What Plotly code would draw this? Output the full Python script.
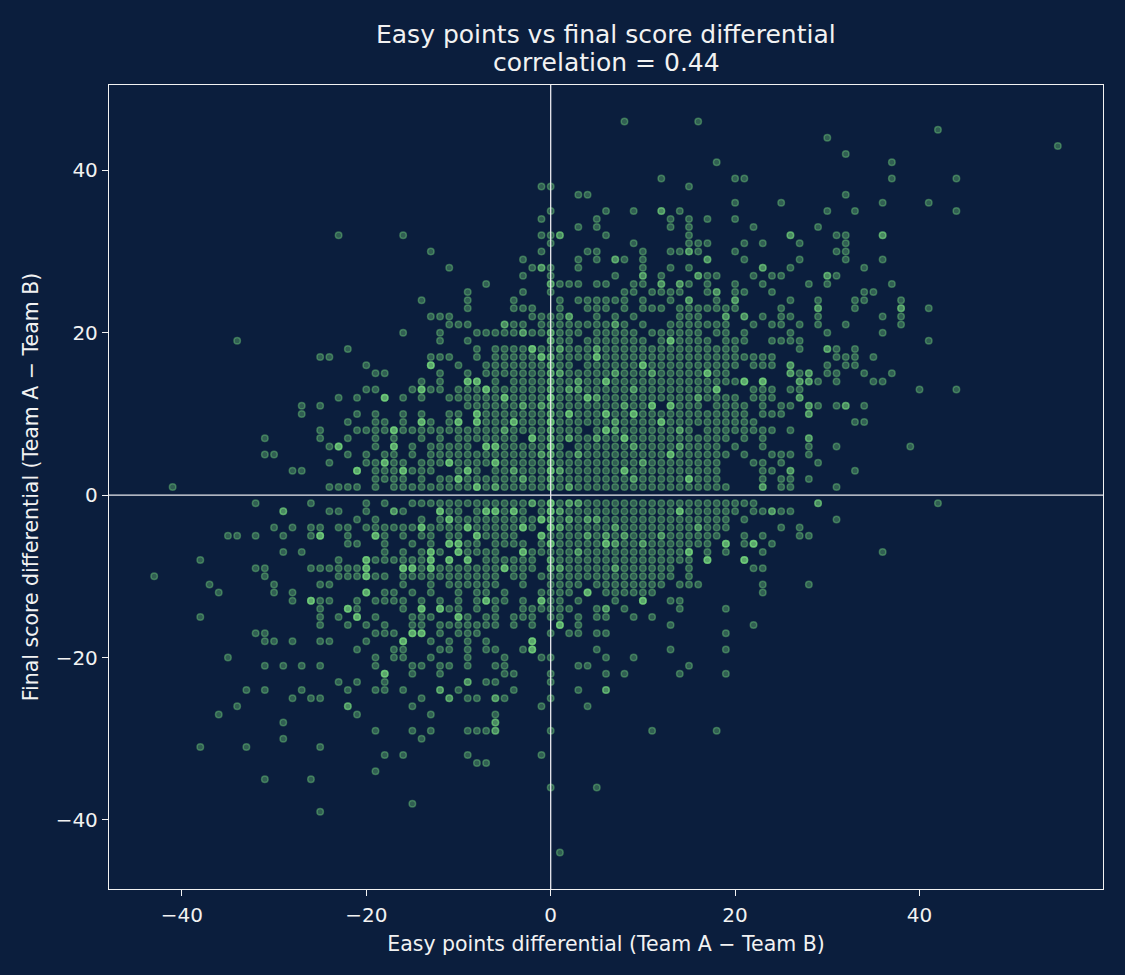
import plotly.graph_objects as go

# games, one row per final score differential
# (y, [easy points differential, ...]); a repeated x = brighter dot
upper_rows = [
    (46, [8, 16]),
    (45, [42]),
    (44, [30]),
    (43, [55]),
    (42, [32]),
    (41, [18, 37]),
    (39, [12, 20, 21, 37, 44]),
    (38, [-1, 0, 15]),
    (37, [3, 4, 32]),
    (36, [20, 25, 36, 41]),
    (35, [0, 6, 9, 12, 12, 14, 30, 33, 44]),
    (34, [-1, 5, 13, 15, 17, 20]),
    (33, [3, 5, 13, 15, 22, 29]),
    (32, [-23, -16, -1, 0, 1, 1, 6, 15, 26, 26, 31, 32, 36, 36]),
    (31, [0, 9, 15, 16, 17, 21, 23, 27, 32]),
    (30, [-13, -1, 4, 5, 10, 13, 14, 15, 15, 16, 20, 31, 32]),
    (29, [-3, 3, 5, 7, 7, 8, 10, 17, 17, 21, 27, 32, 36]),
    (28, [-11, -2, -1, -1, 0, 3, 10, 13, 15, 23, 23, 26, 34]),
    (27, [-3, 0, 7, 10, 10, 12, 16, 16, 17, 18, 22, 24, 25, 30, 30, 31]),
    (26, [-7, 0, 0, 1, 2, 3, 5, 6, 9, 10, 12, 12, 14, 14, 15, 17, 20, 23,
          28, 30, 37]),
    (25, [-9, -3, 0, 8, 9, 11, 12, 13, 14, 17, 18, 18, 20, 21, 24, 34, 35]),
    (24, [-14, -9, -4, 1, 3, 4, 5, 6, 7, 8, 10, 13, 15, 15, 18, 20, 20, 26,
          29, 33, 34, 38]),
    (23, [-9, -4, -3, -2, 1, 4, 5, 6, 8, 10, 11, 12, 14, 15, 16, 17, 18, 19,
          20, 25, 29, 29, 33, 38, 38, 41]),
    (22, [-13, -12, -11, -2, -1, 0, 1, 2, 2, 5, 7, 9, 14, 15, 16, 19, 19,
          21, 21, 23, 25, 26, 29, 36, 38]),
    (21, [-11, -10, -9, -5, -5, -4, -3, -1, 0, 1, 2, 3, 4, 5, 6, 7, 7, 8,
          10, 13, 14, 15, 16, 17, 18, 19, 22, 24, 25, 27, 29, 32, 38]),
]

core_rows = [
    (20, [-16, -12, -8, -7, -6, -5, -4, -3, -3, -2, -1, 0, 0, 1, 2, 3, 5, 6,
          7, 8, 9, 11, 12, 13, 14, 15, 16, 18, 19, 21, 26, 30, 36]),
    (19, [-34, -12, -9, 0, 0, 1, 2, 4, 5, 6, 7, 8, 9, 10, 12, 13, 13, 14, 15,
          16, 17, 19, 20, 21, 24, 25, 26, 27, 41]),
    (18, [-22, -8, -6, -5, -4, -3, -2, -2, -1, 0, 1, 2, 3, 4, 5, 5, 6, 7, 8,
          9, 10, 11, 12, 13, 14, 15, 16, 17, 18, 19, 20, 27, 30, 30, 31, 33]),
    (17, [-25, -24, -13, -12, -11, -8, -6, -5, -4, -3, -2, -1, -1, 0, 0, 1,
          2, 3, 4, 5, 5, 6, 7, 8, 9, 10, 11, 12, 13, 14, 15, 16, 17, 18, 19,
          20, 21, 22, 23, 24, 31, 32, 33, 35]),
    (16, [-20, -13, -13, -10, -7, -6, -5, -4, -3, -2, -1, 0, 1, 2, 4, 5, 6,
          7, 8, 9, 10, 10, 11, 12, 13, 14, 15, 16, 17, 18, 19, 20, 22, 23, 24,
          26, 26, 30, 32, 33]),
    (15, [-19, -18, -12, -9, -7, -6, -5, -4, -3, -2, -1, 0, 0, 1, 2, 3, 4, 5,
          6, 7, 7, 8, 9, 10, 11, 12, 13, 14, 15, 16, 17, 17, 18, 19, 26, 26,
          27, 28, 28, 30, 31, 34, 37]),
    (14, [-14, -12, -9, -9, -8, -8, -6, -4, -3, -2, -1, 0, 0, 1, 2, 3, 4, 5,
          6, 6, 7, 8, 9, 10, 11, 12, 13, 14, 15, 16, 17, 18, 19, 20, 21, 21,
          23, 23, 27, 27, 28, 28, 29, 31, 35, 36]),
    (13, [-20, -19, -15, -14, -14, -13, -12, -10, -9, -8, -7, -7, -6, -5, -4,
          -3, -2, -1, 0, 0, 1, 2, 3, 4, 5, 6, 7, 8, 9, 9, 10, 11, 12, 13, 14,
          15, 16, 17, 18, 18, 22, 23, 24, 26, 27, 40, 44]),
    (12, [-23, -21, -18, -18, -16, -14, -11, -10, -9, -8, -7, -6, -5, -5, -4,
          -3, -2, -1, 0, 0, 1, 2, 3, 4, 4, 5, 6, 7, 8, 9, 10, 11, 12, 13, 14,
          15, 16, 17, 18, 19, 20, 22, 23, 24, 27, 27]),
    (11, [-27, -25, -9, -8, -7, -6, -5, -4, -3, -2, -1, -1, 0, 0, 1, 2, 3, 4,
          5, 6, 7, 8, 9, 10, 11, 11, 13, 13, 14, 15, 16, 18, 19, 20, 21, 23,
          25, 26, 28, 28, 29, 31, 32, 32, 34]),
    (10, [-27, -21, -19, -16, -14, -11, -10, -8, -8, -7, -6, -5, -4, -3, -2,
          -1, 0, 0, 1, 2, 2, 3, 4, 5, 6, 6, 7, 8, 9, 10, 11, 12, 13, 14, 15,
          16, 17, 18, 19, 20, 21, 23, 24, 25, 28, 28]),
    (9, [-22, -19, -18, -16, -14, -14, -13, -11, -10, -10, -8, -8, -7, -6,
         -5, -4, -4, -3, -2, -1, 0, 0, 1, 2, 3, 4, 5, 6, 7, 8, 9, 10, 11, 12,
         13, 14, 15, 16, 17, 18, 19, 20, 21, 22, 33, 34]),
    (8, [-25, -21, -20, -19, -18, -17, -17, -16, -15, -14, -13, -12, -11, -10,
         -9, -8, -7, -6, -5, -4, -3, -2, -1, 0, 0, 1, 2, 3, 5, 6, 6, 7, 8, 9,
         10, 11, 12, 13, 14, 15, 17, 18, 19, 20, 21, 22, 23, 24, 26]),
    (7, [-31, -25, -22, -19, -17, -14, -12, -10, -9, -8, -7, -6, -5, -4, -2,
         -2, -1, 0, 0, 1, 2, 3, 4, 5, 6, 7, 8, 8, 9, 10, 11, 12, 13, 14, 15,
         16, 17, 18, 19, 21, 23, 28, 28]),
    (6, [-24, -23, -23, -19, -17, -17, -15, -13, -12, -11, -10, -9, -7, -7,
         -6, -6, -5, -4, -3, -2, -1, 0, 0, 1, 3, 4, 5, 6, 7, 8, 9, 10, 11, 12,
         13, 14, 15, 16, 17, 18, 20, 23, 28, 31, 39]),
    (5, [-31, -30, -22, -20, -18, -17, -15, -13, -12, -11, -10, -9, -8, -7,
         -6, -5, -4, -3, -2, -1, 0, 0, 1, 2, 3, 4, 5, 6, 7, 8, 9, 10, 11, 12,
         13, 13, 14, 15, 16, 17, 18, 19, 21, 24, 25, 26, 28]),
    (4, [-24, -20, -19, -18, -18, -17, -16, -14, -13, -12, -11, -11, -10, -9,
         -8, -7, -6, -6, -5, -4, -3, -2, -1, 0, 0, 1, 2, 3, 4, 5, 6, 7, 8, 9,
         10, 12, 13, 14, 15, 16, 17, 18, 22, 23, 25, 29]),
    (3, [-28, -27, -21, -21, -19, -18, -17, -16, -16, -15, -14, -13, -10, -9,
         -9, -8, -6, -5, -4, -3, -2, -1, 0, 0, 1, 2, 3, 4, 5, 6, 7, 8, 8, 9,
         10, 11, 12, 13, 14, 15, 16, 17, 18, 23, 24, 26, 26, 33]),
    (2, [-19, -18, -17, -16, -14, -12, -11, -10, -10, -9, -8, -7, -6, -5, -4,
         -3, -2, -1, 0, 0, 1, 2, 3, 4, 5, 6, 7, 8, 9, 10, 11, 12, 13, 14, 15,
         15, 16, 17, 18, 23, 25, 26, 28]),
    (1, [-41, -24, -23, -22, -21, -19, -17, -16, -15, -14, -13, -12, -11,
         -10, -9, -8, -8, -7, -6, -5, -4, -3, -2, -1, 0, 0, 1, 2, 3, 4, 5, 6,
         7, 8, 9, 10, 11, 12, 13, 14, 15, 16, 17, 18, 19, 23, 23, 25, 26, 31]),
    (-1, [-32, -26, -20, -18, -15, -14, -13, -12, -11, -10, -9, -8, -7, -6,
          -5, -4, -3, -2, -1, 0, 0, 1, 2, 3, 4, 5, 6, 7, 8, 9, 10, 11, 12, 13,
          14, 15, 16, 17, 18, 19, 20, 21, 22, 29, 29, 42]),
    (-2, [-29, -29, -24, -23, -20, -17, -17, -16, -12, -12, -11, -10, -8, -7,
          -7, -6, -6, -5, -4, -4, -3, -1, 0, 0, 1, 2, 3, 4, 5, 6, 7, 8, 9, 10,
          11, 12, 13, 14, 14, 15, 16, 17, 18, 19, 20, 22, 23, 24, 24, 25, 26]),
    (-3, [-21, -19, -14, -12, -11, -11, -10, -9, -8, -7, -6, -5, -4, -3, -2,
          -1, -1, 0, 0, 1, 2, 3, 4, 5, 6, 7, 8, 9, 10, 11, 12, 13, 14, 15, 16,
          17, 18, 19, 21, 31]),
    (-4, [-30, -28, -26, -25, -23, -22, -20, -19, -18, -17, -16, -15, -14,
          -14, -13, -12, -11, -10, -9, -9, -8, -7, -6, -5, -4, -3, -3, -2, 0,
          0, 1, 2, 3, 4, 5, 6, 7, 8, 9, 10, 11, 12, 13, 14, 15, 16, 17, 18,
          19, 25, 27]),
    (-5, [-35, -34, -32, -29, -26, -25, -25, -22, -19, -19, -18, -16, -14,
          -13, -11, -10, -8, -8, -7, -6, -5, -4, -1, -1, 0, 1, 2, 3, 4, 5, 6,
          7, 8, 9, 10, 11, 12, 13, 14, 15, 16, 17, 18, 21, 23, 27, 28]),
    (-6, [-22, -21, -18, -15, -13, -11, -11, -10, -10, -9, -8, -6, -5, -4,
          -3, -1, 0, 0, 1, 2, 3, 4, 5, 6, 7, 7, 8, 9, 10, 11, 12, 13, 14, 15,
          16, 17, 19, 19, 21, 22, 22, 24]),
    (-7, [-29, -27, -18, -16, -14, -13, -13, -12, -10, -10, -9, -8, -7, -6,
          -3, -3, -2, -1, 0, 1, 2, 3, 4, 5, 6, 7, 8, 9, 10, 11, 12, 13, 14,
          15, 15, 17, 19, 23, 36]),
    (-8, [-38, -23, -20, -20, -19, -18, -17, -16, -15, -14, -13, -13, -11,
          -11, -9, -9, -7, -6, -5, -4, -3, -2, 0, 0, 1, 2, 3, 4, 5, 6, 7, 8,
          9, 10, 11, 12, 13, 14, 15, 17, 17, 21, 21]),
    (-9, [-32, -31, -26, -25, -24, -23, -22, -21, -20, -20, -16, -16, -15,
          -15, -14, -13, -13, -12, -11, -10, -9, -8, -7, -6, -5, -5, -4, -3,
          -2, 0, 1, 2, 3, 4, 5, 6, 7, 8, 9, 10, 11, 12, 13, 15, 22, 23]),
    (-10, [-43, -31, -23, -22, -21, -20, -20, -19, -18, -16, -15, -14, -13,
           -12, -11, -10, -9, -8, -7, -6, -4, -3, -1, 0, 1, 2, 3, 4, 5, 6, 7,
           8, 9, 10, 11, 12, 13, 15]),
    (-11, [-37, -30, -25, -24, -16, -13, -11, -10, -9, -8, -7, -6, -3, 0, 1,
           2, 3, 5, 6, 7, 8, 9, 10, 11, 12, 14, 15, 16, 23, 28]),
    (-12, [-36, -30, -28, -20, -20, -18, -17, -15, -13, -10, -8, -7, -5, -1,
           0, 1, 2, 4, 4, 6, 7, 8, 9, 10, 11, 23]),
]

lower_rows = [
    (-13, [-28, -26, -26, -25, -24, -21, -19, -18, -17, -16, -14, -12, -10,
           -8, -7, -7, -6, -5, -3, -1, -1, 0, 1, 3, 7, 10, 10, 13, 14]),
    (-14, [-25, -22, -22, -21, -16, -14, -14, -12, -12, -11, -10, -8, -6, -3,
           -2, -1, 0, 1, 2, 5, 6, 6, 8, 14, 19]),
    (-15, [-38, -25, -23, -21, -21, -19, -15, -14, -13, -10, -10, -9, -7, -6,
           -4, -3, -2, 0, 1, 3, 5, 6, 9, 11]),
    (-16, [-25, -22, -20, -18, -15, -14, -12, -11, -10, -9, -8, -7, -6, -4,
           -2, 1, 1, 3, 13, 22]),
    (-17, [-32, -31, -19, -18, -17, -15, -15, -14, -14, -12, -10, -9, -8, 0,
           2, 3, 5, 6, 19]),
    (-18, [-31, -30, -28, -25, -24, -20, -16, -16, -13, -11, -9, -7, -2, -2]),
    (-19, [-21, -17, -16, -12, -11, -9, -7, -6, -3, -2, -2, 5, 13, 19]),
    (-20, [-35, -19, -17, -16, -13, -9, -5, -1, 0, 6, 9]),
    (-21, [-31, -29, -27, -25, -19, -15, -14, -12, -11, -9, -6, -5, 3, 4, 15]),
    (-22, [-18, -18, -15, -12, -5, -4, 0, 6, 8, 14, 19]),
    (-23, [-23, -21, -18, -9, -9, -7, -6, 0]),
    (-24, [-33, -31, -27, -22, -19, -18, -16, -12, -12, -10, -4, 3, 6, 6]),
    (-25, [-28, -26, -25, -14, -11, -11, -9, -8, -6, -6, -5, 0]),
    (-26, [-34, -22, -22, -15, -1, 4]),
    (-27, [-36, -21, -13, -6]),
    (-28, [-29, -6, -6]),
    (-29, [-19, -15, -13, -9, -8, -7, -6, -6, 0, 11, 18]),
    (-30, [-29, -14]),
    (-31, [-38, -33, -25]),
    (-32, [-18, -16, -9, -1]),
    (-33, [-8, -7]),
    (-34, [-19]),
    (-35, [-31, -26]),
    (-36, [0, 5]),
    (-38, [-15]),
    (-39, [-25]),
    (-44, [1]),
]

# extra games stacked on the brightest spots of the dense middle
extra_x = [13, 5, 6, 10, 11, 13, 6, 2, 4, 6, 8, 13, 15, 8, 21, 23, 18, 17,
           1, 1, 3, 2, 5, 7, 9, 10, 14, 16, 12, 3, 1, 2, 0, 0, 0, 0, 0, 0,
           -2, -1, -13, -9, -8, -14, -7, -18, -5, -8, -14, -10, -8, -4, -17,
           -2, -23, -17, -6, -7, -18, -11, -6, -21, -16, -9, -10, -8, -3, -5,
           -1, -3, -12, -7, -6, -4, -11, -1, -14, -9, -3, -19, -25, -8, -1,
           -11, -10, -13, -10, -3, -20, -13, -11, -9, -20, -16, -15, -13, -5,
           -20, -20, -26, -7, -1, -22, -14, -12, -21, -10, -15, -14, -16, -2,
           -2, -18, 14, 1, 3, 2, 5, 7, 1, 4, 6, 12, 19, 22, 15, 17, 21, 1, 7,
           4, 10, 6, 1, 8, 10, 3, 0, 0, 0, 0, 4, 9, 11, 5, 8, 3, 11, 7, 9, 2,
           -2, -4, -6, 12, 14, 16, 6, 2, 9]
extra_y = [19, 17, 14, 16, 11, 11, 10, 10, 12, 8, 7, 5, 2, 3, 14, 14, 13,
           15, 18, 15, 14, 13, 12, 9, 6, 4, 6, 12, 9, 5, 3, 1, 6, 12, 16, 9,
           3, -4, 18, 17, 16, 14, 14, 13, 13, 12, 12, 10, 9, 9, 9, 9, 8, 7, 6,
           6, 6, 6, 4, 4, 4, 3, 3, 3, 2, 1, 11, 8, 5, 2, -2, -2, -2, -2, -3,
           -3, -4, -4, -4, -5, -5, -5, -5, -6, -6, -7, -7, -7, -8, -8, -8, -8,
           -9, -9, -9, -9, -9, -10, -12, -13, -13, -13, -14, -14, -14, -15,
           -15, -17, -17, -18, -18, -19, -22, -2, -2, -1, -3, -3, -4, -4, -5,
           -5, -5, -6, -6, -7, -8, -8, -9, -9, -12, -13, -6, -16, -5, -6, -7,
           -1, -6, -9, -2, -3, 2, 4, 7, 11, 13, 15, 8, 10, -1, -1, 3, 1, 9, 8,
           -4, -6, 7, 10, 4, -3, -10]

title_lines = ["Easy points vs final score differential", "correlation = 0.44"]
x_label = "Easy points differential (Team A \u2212 Team B)"
y_label = "Final score differential (Team A \u2212 Team B)"
tick_vals = [-40, -20, 0, 20, 40]

easy_diff = []
final_diff = []
for y, row in upper_rows + core_rows + lower_rows:
    for x in row:
        easy_diff.append(x)
        final_diff.append(y)
easy_diff += extra_x
final_diff += extra_y

bg = "#0b1e3d"
dot = "rgba(124,226,130,0.33)"
ring = "rgba(124,226,130,0.38)"
white = "#f2f2f2"

fig = go.Figure()
fig.add_trace(go.Scatter(
    x=easy_diff, y=final_diff, mode="markers",
    marker=dict(size=6.5, color=dot, line=dict(color=ring, width=1.5)),
    hoverinfo="skip", showlegend=False,
))

# the two zero lines sit on top of the dots
fig.add_shape(type="line", xref="x", yref="paper", x0=0, x1=0, y0=0, y1=1,
              line=dict(color="#e8e8ee", width=1.3), layer="above")
fig.add_shape(type="line", xref="paper", yref="y", x0=0, x1=1, y0=0, y1=0,
              line=dict(color="#e8e8ee", width=1.3), layer="above")

axis_style = dict(
    showgrid=False, zeroline=False, showline=True, mirror=True,
    linecolor=white, linewidth=1.3, ticks="outside", ticklen=6,
    tickwidth=1.3, tickcolor=white, tickvals=tick_vals,
    tickfont=dict(size=20, color=white),
)

fig.update_xaxes(axis_style, range=[-47.9, 59.9], ticklabelstandoff=2,
                 title=dict(text=x_label, font=dict(size=20.5, color=white),
                            standoff=10))
fig.update_yaxes(axis_style, range=[-48.5, 50.5],
                 title=dict(text=y_label, font=dict(size=20.5, color=white),
                            standoff=11))

fig.add_annotation(text=title_lines[0], xref="paper", yref="paper",
                   x=0.5, y=1.0622, yanchor="middle", showarrow=False,
                   font=dict(size=25, color=white))
fig.add_annotation(text=title_lines[1], xref="paper", yref="paper",
                   x=0.5, y=1.0277, yanchor="middle", showarrow=False,
                   font=dict(size=25, color=white))

fig.update_layout(
    width=1125, height=975,
    margin=dict(l=109, r=22, t=85, b=86, autoexpand=False),
    plot_bgcolor=bg, paper_bgcolor=bg,
    font=dict(family="DejaVu Sans", color=white),
)

# drop the page's default 8px body margin so the figure sits at 0,0
fig.write_html("out.html", config={"displayModeBar": False}, post_script=(
    "document.body.style.margin='0';"
    "document.body.style.background='" + bg + "';"))
